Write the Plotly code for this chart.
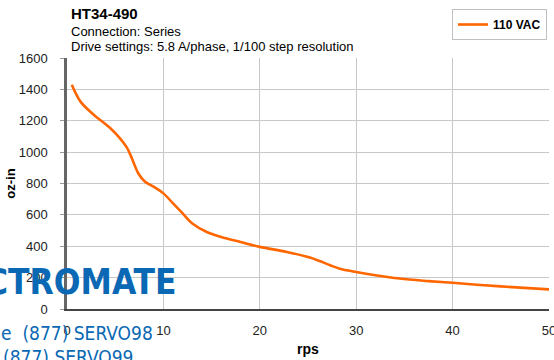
import plotly.graph_objects as go

# ---- data ----
speed_rps = [0.5, 1.4, 2.8, 4.5, 5.5, 6.2, 6.7, 7.4, 8.1, 9, 10, 11, 12, 13, 14.5, 16, 18, 20,
             22.8, 25.2, 26.2, 27.3, 28.3, 30, 32, 34.5, 37.5, 40, 42.5, 45, 50]
torque_ozin = [1429, 1322, 1237, 1152, 1088, 1030, 965, 864, 811, 779, 737, 673, 609, 545, 491,
               459, 427, 396, 364, 328, 306, 279, 257, 236, 215, 194, 178, 167, 155, 144, 125]
series_name = "110 VAC"
title_lines = ["HT34-490", "Connection: Series", "Drive settings: 5.8 A/phase, 1/100 step resolution"]
x_ticks = [0, 10, 20, 30, 40, 50]
y_ticks = [0, 200, 400, 600, 800, 1000, 1200, 1400, 1600]

W, H = 554, 360
L, R, T, B = 67, 5, 58, 51
PW, PH = W - L - R, H - T - B

def px(x):
    return (x - L) / PW

def py(y):
    return (H - B - y) / PH

FONT = "Liberation Sans, Arial, sans-serif"
NARROW = "Liberation Sans Narrow, DejaVu Sans Condensed, Arial Narrow, sans-serif"

fig = go.Figure()
fig.add_trace(go.Scatter(
    x=speed_rps, y=torque_ozin, mode="lines", name="<b>%s</b>" % series_name,
    line=dict(color="#ff6600", width=2.6, shape="spline", smoothing=1.0),
))

ann = []
# titles
ann.append(dict(text="<b>%s</b>" % title_lines[0], x=px(69), y=py(14), xref="paper", yref="paper",
                xanchor="left", yanchor="middle", showarrow=False, font=dict(size=15, color="#000", family=FONT)))
ann.append(dict(text=title_lines[1], x=px(69), y=py(31), xref="paper", yref="paper",
                xanchor="left", yanchor="middle", showarrow=False, font=dict(size=13, color="#000", family=FONT)))
ann.append(dict(text=title_lines[2], x=px(69), y=py(46), xref="paper", yref="paper",
                xanchor="left", yanchor="middle", showarrow=False, font=dict(size=13, color="#000", family=FONT)))
# watermark
BLUE = "#0a68b4"
ann.append(dict(text="<b>CTROMATE</b>", x=px(179), y=py(282), xref="paper", yref="paper",
                xanchor="right", yanchor="middle", showarrow=False, font=dict(size=35, color=BLUE, family=NARROW)))
ann.append(dict(text="e  (877) SERVO98", x=px(-1), y=py(333), xref="paper", yref="paper",
                xanchor="left", yanchor="middle", showarrow=False, font=dict(size=19, color=BLUE, family=NARROW)))
ann.append(dict(text="(877) SERVO99", x=px(1), y=py(357), xref="paper", yref="paper",
                xanchor="left", yanchor="middle", showarrow=False, font=dict(size=19, color=BLUE, family=NARROW)))

fig.update_layout(
    width=W, height=H,
    margin=dict(l=L, r=R, t=T, b=B, pad=0, autoexpand=False),
    paper_bgcolor="white", plot_bgcolor="white",
    font=dict(family=FONT, size=12, color="#222"),
    showlegend=True,
    legend=dict(xref="container", yref="container", x=452 / W, y=1 - 9 / H,
                xanchor="left", yanchor="top",
                bordercolor="#c0c0c0", borderwidth=1, bgcolor="white",
                font=dict(size=12, color="#000", family=FONT), itemwidth=30,
                tracegroupgap=0),
    annotations=ann,
)

fig.update_xaxes(
    range=[0, 50], tickvals=x_ticks, ticktext=[str(v) for v in x_ticks],
    automargin=False, ticklabeloverflow="allow",
    showgrid=True, gridcolor="#c8c8c8", gridwidth=1,
    showline=True, linecolor="#444", linewidth=2, zeroline=False,
    ticks="", ticklabelstandoff=8,
    tickfont=dict(size=13, color="#222"),
    title=dict(text="<b>rps</b>", font=dict(size=14, color="#000"), standoff=8),
)
fig.update_yaxes(
    range=[0, 1600], tickvals=y_ticks, ticktext=[str(v) for v in y_ticks],
    automargin=False, ticklabeloverflow="allow",
    showgrid=True, gridcolor="#c8c8c8", gridwidth=1,
    showline=True, linecolor="#666", linewidth=2.5, zeroline=False,
    ticks="outside", ticklen=4, tickcolor="#999", ticklabelstandoff=10,
    tickfont=dict(size=13, color="#222"),
    title=dict(text="<b>oz-in</b>", font=dict(size=13, color="#000"), standoff=1),
)

fig.write_html("out.html", config={"displayModeBar": False},
               post_script="document.body.style.margin='0';")
